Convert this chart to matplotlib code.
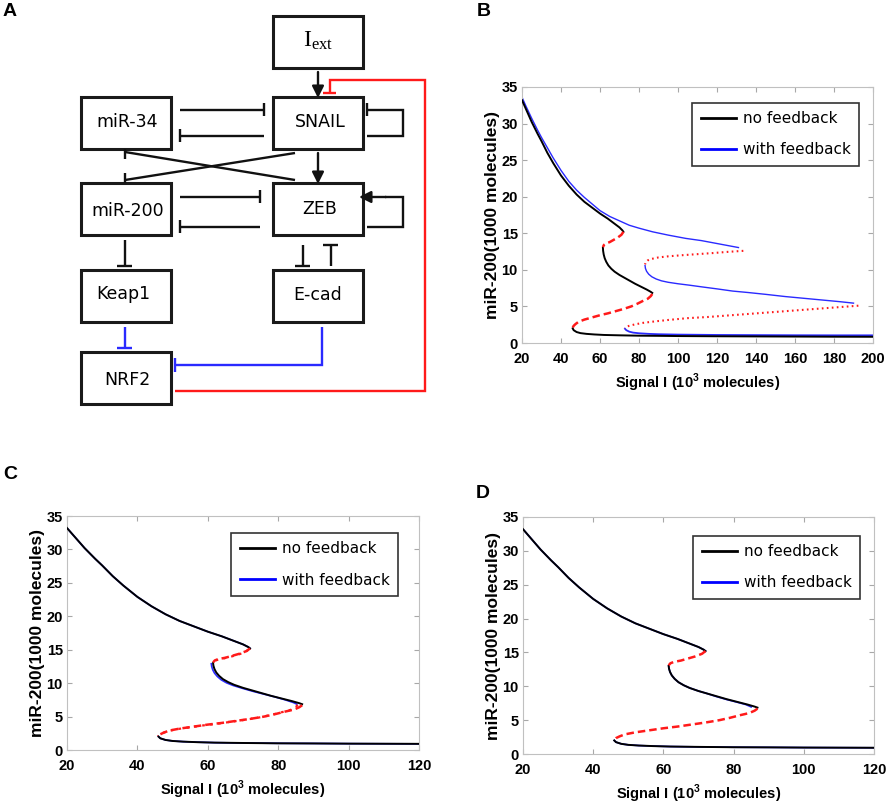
import matplotlib
matplotlib.use('Agg')
import matplotlib.pyplot as plt
from matplotlib.patches import Rectangle
from matplotlib.lines import Line2D

plt.rcParams['font.family'] = ['Liberation Sans', 'DejaVu Sans']
plt.rcParams['mathtext.fontset'] = 'custom'
plt.rcParams['mathtext.bf'] = 'Liberation Sans:bold'
plt.rcParams['mathtext.rm'] = 'Liberation Sans:bold'

# ---- data: no feedback (same system in B, C, D) ----
nf_up_x = [20, 22, 25, 28, 30, 33, 36, 40, 44, 48, 52, 56, 60, 64, 68, 70, 71.5, 72]
nf_up_y = [33.2, 32.0, 30.2, 28.6, 27.6, 26.0, 24.6, 22.9, 21.5, 20.3, 19.3, 18.5, 17.7, 17.0, 16.2, 15.8, 15.4, 15.2]
nf_us1_x = [72, 71, 69, 67, 65, 63, 62, 61.5]
nf_us1_y = [15.2, 14.8, 14.4, 14.1, 13.8, 13.6, 13.4, 13.1]
nf_mid_x = [61.5, 61.6, 61.9, 62.4, 63.2, 64.3, 65.8, 67.5, 70, 72, 75, 78, 81, 84, 86, 86.8]
nf_mid_y = [13.0, 12.6, 12.1, 11.6, 11.1, 10.6, 10.15, 9.75, 9.3, 9.0, 8.55, 8.1, 7.7, 7.3, 7.0, 6.85]
nf_us2_x = [86.8, 86, 84.5, 82, 79, 76, 72, 68, 64, 60, 56, 52, 49, 47.5, 46.5, 46]
nf_us2_y = [6.7, 6.4, 6.05, 5.75, 5.35, 5.0, 4.65, 4.35, 4.05, 3.8, 3.5, 3.2, 2.9, 2.6, 2.35, 2.1]
nf_lo_x = [46, 46.5, 48, 50, 53, 57, 62, 70, 80, 90, 100, 120, 140, 160, 180, 200]
nf_lo_y = [2.0, 1.75, 1.5, 1.35, 1.25, 1.17, 1.1, 1.05, 1.0, 0.98, 0.95, 0.92, 0.9, 0.88, 0.86, 0.85]

# ---- data: with feedback, panel B ----
fb_up_x = [20, 22, 25, 28, 30, 33, 36, 40, 44, 48, 52, 56, 60, 65, 70, 75, 80, 87, 95, 104, 112, 120, 126, 131]
fb_up_y = [33.6, 32.4, 30.7, 29.1, 28.1, 26.7, 25.3, 23.6, 22.1, 20.9, 19.9, 19.0, 18.1, 17.3, 16.7, 16.1, 15.7,
           15.2, 14.75, 14.3, 14.0, 13.6, 13.3, 13.05]
fb_us1_x = [133.5, 125, 118, 110, 102, 95, 90, 86.5, 84.5, 83.5, 83.1]
fb_us1_y = [12.6, 12.45, 12.3, 12.15, 12.0, 11.85, 11.7, 11.5, 11.3, 11.05, 10.75]
fb_mid_x = [83.1, 83.3, 83.9, 85, 86.6, 88.8, 91.5, 95, 100, 106, 112, 120, 128, 136, 145, 155, 165, 175, 183, 190]
fb_mid_y = [10.6, 10.2, 9.8, 9.4, 9.05, 8.75, 8.5, 8.3, 8.1, 7.9, 7.68, 7.4, 7.1, 6.9, 6.65, 6.35, 6.1, 5.85, 5.65, 5.45]
fb_us2_x = [192.5, 185, 175, 165, 155, 145, 135, 125, 115, 105, 95, 88, 82, 78, 75, 73.5, 72.8]
fb_us2_y = [5.1, 4.95, 4.75, 4.55, 4.35, 4.15, 3.95, 3.75, 3.55, 3.4, 3.15, 2.95, 2.75, 2.55, 2.35, 2.2, 2.0]
fb_lo_x = [72.8, 73.5, 75, 77, 80, 85, 90, 100, 120, 140, 160, 180, 200]
fb_lo_y = [1.95, 1.75, 1.55, 1.42, 1.33, 1.25, 1.2, 1.15, 1.1, 1.08, 1.06, 1.05, 1.05]

# ---- data: with feedback, panels C and D ----
fbc_us1_x = [71.5, 70.5, 68.5, 66.5, 64.5, 62.5, 61.5, 61.0]
fbc_us1_y = [15.0, 14.6, 14.25, 13.95, 13.7, 13.45, 13.25, 12.95]
fbc_mid_x = [61.0, 61.1, 61.4, 61.9, 62.7, 63.8, 65.3, 67.2, 70, 73, 76, 79, 82, 84.3, 85.3]
fbc_mid_y = [12.9, 12.5, 12.0, 11.5, 11.0, 10.5, 10.05, 9.65, 9.2, 8.75, 8.35, 7.95, 7.5, 7.1, 6.85]
fbc_us2_x = [85.5, 85, 83.5, 81, 78, 75, 71, 67, 63, 59, 55, 51, 48.5, 47, 46.2, 45.8]
fbc_us2_y = [6.75, 6.4, 6.0, 5.65, 5.25, 4.9, 4.55, 4.25, 3.95, 3.7, 3.4, 3.1, 2.8, 2.5, 2.25, 2.05]
fbd_mid_x = [61.5, 61.6, 61.9, 62.4, 63.2, 64.3, 65.8, 67.5, 70, 72, 75, 78, 81, 83.5, 85]
fbd_mid_y = [13.0, 12.6, 12.1, 11.6, 11.1, 10.6, 10.15, 9.75, 9.3, 9.0, 8.5, 8.05, 7.65, 7.3, 6.95]

legend_labels = ['no feedback', 'with feedback']
xticks_b = [20, 40, 60, 80, 100, 120, 140, 160, 180, 200]
xticks_cd = [20, 40, 60, 80, 100, 120]
yticks = [0, 5, 10, 15, 20, 25, 30, 35]

# diagram nodes
nodes = ['Iext', 'SNAIL', 'miR-34', 'miR-200', 'ZEB', 'Keap1', 'E-cad', 'NRF2']

RED = '#ff1a1a'
BLUE = '#2a2aff'

fig = plt.figure(figsize=(8.86, 8.05), dpi=100)

# ---------------- panel A: network diagram (pixel coordinates) ----------------
axA = fig.add_axes([0, 0, 1, 1])
axA.set_xlim(0, 886)
axA.set_ylim(805, 0)
axA.axis('off')

boxes = {
    'Iext': (273, 16), 'SNAIL': (273, 97), 'miR-34': (81, 97), 'miR-200': (81, 183),
    'ZEB': (273, 183), 'Keap1': (81, 270), 'E-cad': (273, 270), 'NRF2': (81, 352),
}
label_pos = {
    'SNAIL': (320, 122), 'miR-34': (127, 122), 'miR-200': (128, 211), 'ZEB': (320, 209),
    'Keap1': (123, 294), 'E-cad': (318, 295), 'NRF2': (127, 380),
}
for name in nodes:
    x0, y0 = boxes[name]
    axA.add_patch(Rectangle((x0, y0), 90, 52, fill=False, ec='#1a1a1a', lw=2.2))
    if name == 'Iext':
        axA.text(318, 41, r'$\mathregular{I_{ext}}$', ha='center', va='center', fontsize=17,
                 math_fontfamily='stix', family='Liberation Serif')
    else:
        tx, ty = label_pos[name]
        axA.text(tx, ty, name, ha='center', va='center', fontsize=12.5, family='DejaVu Sans')


def seg(pts, color='#111111', lw=1.7):
    axA.plot([p[0] for p in pts], [p[1] for p in pts], color=color, lw=lw,
             solid_capstyle='butt', solid_joinstyle='miter')


def tbar(x, y, vertical, half=6.5, color='#111111', lw=1.7):
    if vertical:
        seg([(x, y - half), (x, y + half)], color, lw)
    else:
        seg([(x - half, y), (x + half, y)], color, lw)


def arrow(p0, p1):
    axA.annotate('', xy=p1, xytext=p0,
                 arrowprops=dict(arrowstyle='-|>,head_length=0.7,head_width=0.35',
                                 color='#111111', lw=1.7, shrinkA=0, shrinkB=0))


# Iext -> SNAIL
arrow((318, 72), (318, 98))
# NRF2 -| SNAIL (red)
seg([(175, 391), (425, 391), (425, 80), (330, 80), (330, 93)], RED)
tbar(330, 93, False, color=RED)
# miR-34 <-> SNAIL
seg([(180, 110), (264, 110)]); tbar(264, 110, True)
seg([(264, 136), (180, 136)]); tbar(180, 136, True)
# SNAIL self-inhibition
seg([(367, 136), (403, 136), (403, 110), (367, 110)]); tbar(367, 110, True)
# SNAIL -> ZEB
arrow((318, 153), (318, 184))
# cross inhibitions
seg([(295, 153), (125, 180)]); tbar(125, 178, True, half=5)
seg([(295, 180), (125, 152)]); tbar(125, 154, True, half=5)
# miR-200 <-> ZEB
seg([(180, 197), (260, 197)]); tbar(260, 197, True)
seg([(260, 227), (180, 227)]); tbar(180, 227, True)
# ZEB self-activation
seg([(367, 227), (403, 227), (403, 197), (385, 197)])
arrow((386, 197), (359, 197))
# miR-200 -| Keap1
seg([(125, 240), (125, 266)]); tbar(125, 266, False, half=7.5)
# ZEB -| E-cad, E-cad -| ZEB
seg([(303, 245), (303, 266)]); tbar(303, 266, False, half=7.5)
seg([(331, 266), (331, 245)]); tbar(331, 245, False, half=7.5)
# Keap1 -| NRF2 (blue)
seg([(125, 327), (125, 348)], BLUE); tbar(125, 348, False, half=7.5, color=BLUE)
# E-cad -| NRF2 (blue)
seg([(322, 327), (322, 365), (175, 365)], BLUE); tbar(175, 365, True, half=7, color=BLUE)

# panel letters
for letter, (lx, ly) in {'A': (3, 12), 'B': (477, 12), 'C': (3, 474), 'D': (476, 493)}.items():
    axA.text(lx, ly, letter, fontsize=14, fontweight='bold', family='Liberation Sans',
             ha='left', va='center')


# ---------------- bifurcation panels ----------------
def style_axes(ax, xlim, xticks):
    ax.set_xlim(*xlim)
    ax.set_ylim(0, 35)
    ax.set_xticks(xticks)
    ax.set_yticks(yticks)
    for s in ax.spines.values():
        s.set_color('#c0c0c0')
        s.set_linewidth(0.8)
    ax.tick_params(direction='in', top=True, right=True, length=3.5, color='#a8a8a8',
                   labelsize=10.5, pad=3)
    ax.tick_params(axis='x', pad=6.5)
    for lab in ax.get_xticklabels() + ax.get_yticklabels():
        lab.set_fontweight('bold')
    ax.set_xlabel(r'Signal I (10$^{\mathbf{3}}$ molecules)', fontsize=10.5, fontweight='bold', labelpad=4)
    ax.set_ylabel('miR-200(1000 molecules)', fontsize=12.5, fontweight='bold', labelpad=1)


def add_legend(ax, right, top):
    handles = [Line2D([], [], color='black', lw=2), Line2D([], [], color='blue', lw=2)]
    leg = ax.legend(handles, legend_labels, loc='upper right', bbox_to_anchor=(right, top),
                    borderaxespad=0, frameon=True, fancybox=False, edgecolor='black',
                    prop={'family': 'DejaVu Sans', 'size': 11}, handlelength=2.3,
                    labelspacing=1.05, borderpad=0.55, handletextpad=0.45)
    leg.get_frame().set_linewidth(1.2)


def draw_nofb(ax):
    ax.plot(nf_up_x, nf_up_y, color='black', lw=1.4, zorder=3)
    ax.plot(nf_mid_x, nf_mid_y, color='black', lw=1.4, zorder=3)
    ax.plot(nf_lo_x, nf_lo_y, color='black', lw=1.4, zorder=3)
    ax.plot(nf_us1_x, nf_us1_y, color=RED, lw=1.8, dashes=(3, 1.6), zorder=3)
    ax.plot(nf_us2_x, nf_us2_y, color=RED, lw=1.8, dashes=(3, 1.6), zorder=3)


# B
axB = fig.add_axes([522 / 886, 1 - 343 / 805, 351 / 886, 256 / 805])
axB.plot(fb_up_x, fb_up_y, color=BLUE, lw=1.0, zorder=2)
axB.plot(fb_mid_x, fb_mid_y, color=BLUE, lw=1.0, zorder=2)
axB.plot(fb_lo_x, fb_lo_y, color=BLUE, lw=1.3, zorder=2)
axB.plot(fb_us1_x, fb_us1_y, color=RED, lw=1.5, dashes=(0.8, 1.6), zorder=2)
axB.plot(fb_us2_x, fb_us2_y, color=RED, lw=1.5, dashes=(0.8, 1.6), zorder=2)
draw_nofb(axB)
style_axes(axB, (20, 200), xticks_b)
add_legend(axB, 0.960, 0.9375)

# C
axC = fig.add_axes([67 / 886, 1 - 750 / 805, 352 / 886, 234 / 805])
axC.plot(nf_up_x, nf_up_y, color=BLUE, lw=1.2, zorder=2)
axC.plot(fbc_mid_x, fbc_mid_y, color=BLUE, lw=1.2, zorder=2)
axC.plot(nf_lo_x, nf_lo_y, color=BLUE, lw=1.2, zorder=2)
axC.plot(fbc_us1_x, fbc_us1_y, color=RED, lw=1.6, dashes=(1.2, 2.4), zorder=2)
axC.plot(fbc_us2_x, fbc_us2_y, color=RED, lw=1.6, dashes=(1.2, 2.4), zorder=2)
draw_nofb(axC)
style_axes(axC, (20, 120), xticks_cd)
add_legend(axC, 0.940, 0.927)

# D
axD = fig.add_axes([523 / 886, 1 - 754 / 805, 351 / 886, 237 / 805])
axD.plot(nf_up_x, nf_up_y, color=BLUE, lw=1.2, zorder=2)
axD.plot(fbd_mid_x, fbd_mid_y, color=BLUE, lw=1.2, zorder=2)
axD.plot(nf_lo_x, nf_lo_y, color=BLUE, lw=1.2, zorder=2)
draw_nofb(axD)
style_axes(axD, (20, 120), xticks_cd)
add_legend(axD, 0.960, 0.920)

fig.savefig('out.png', dpi=100)
